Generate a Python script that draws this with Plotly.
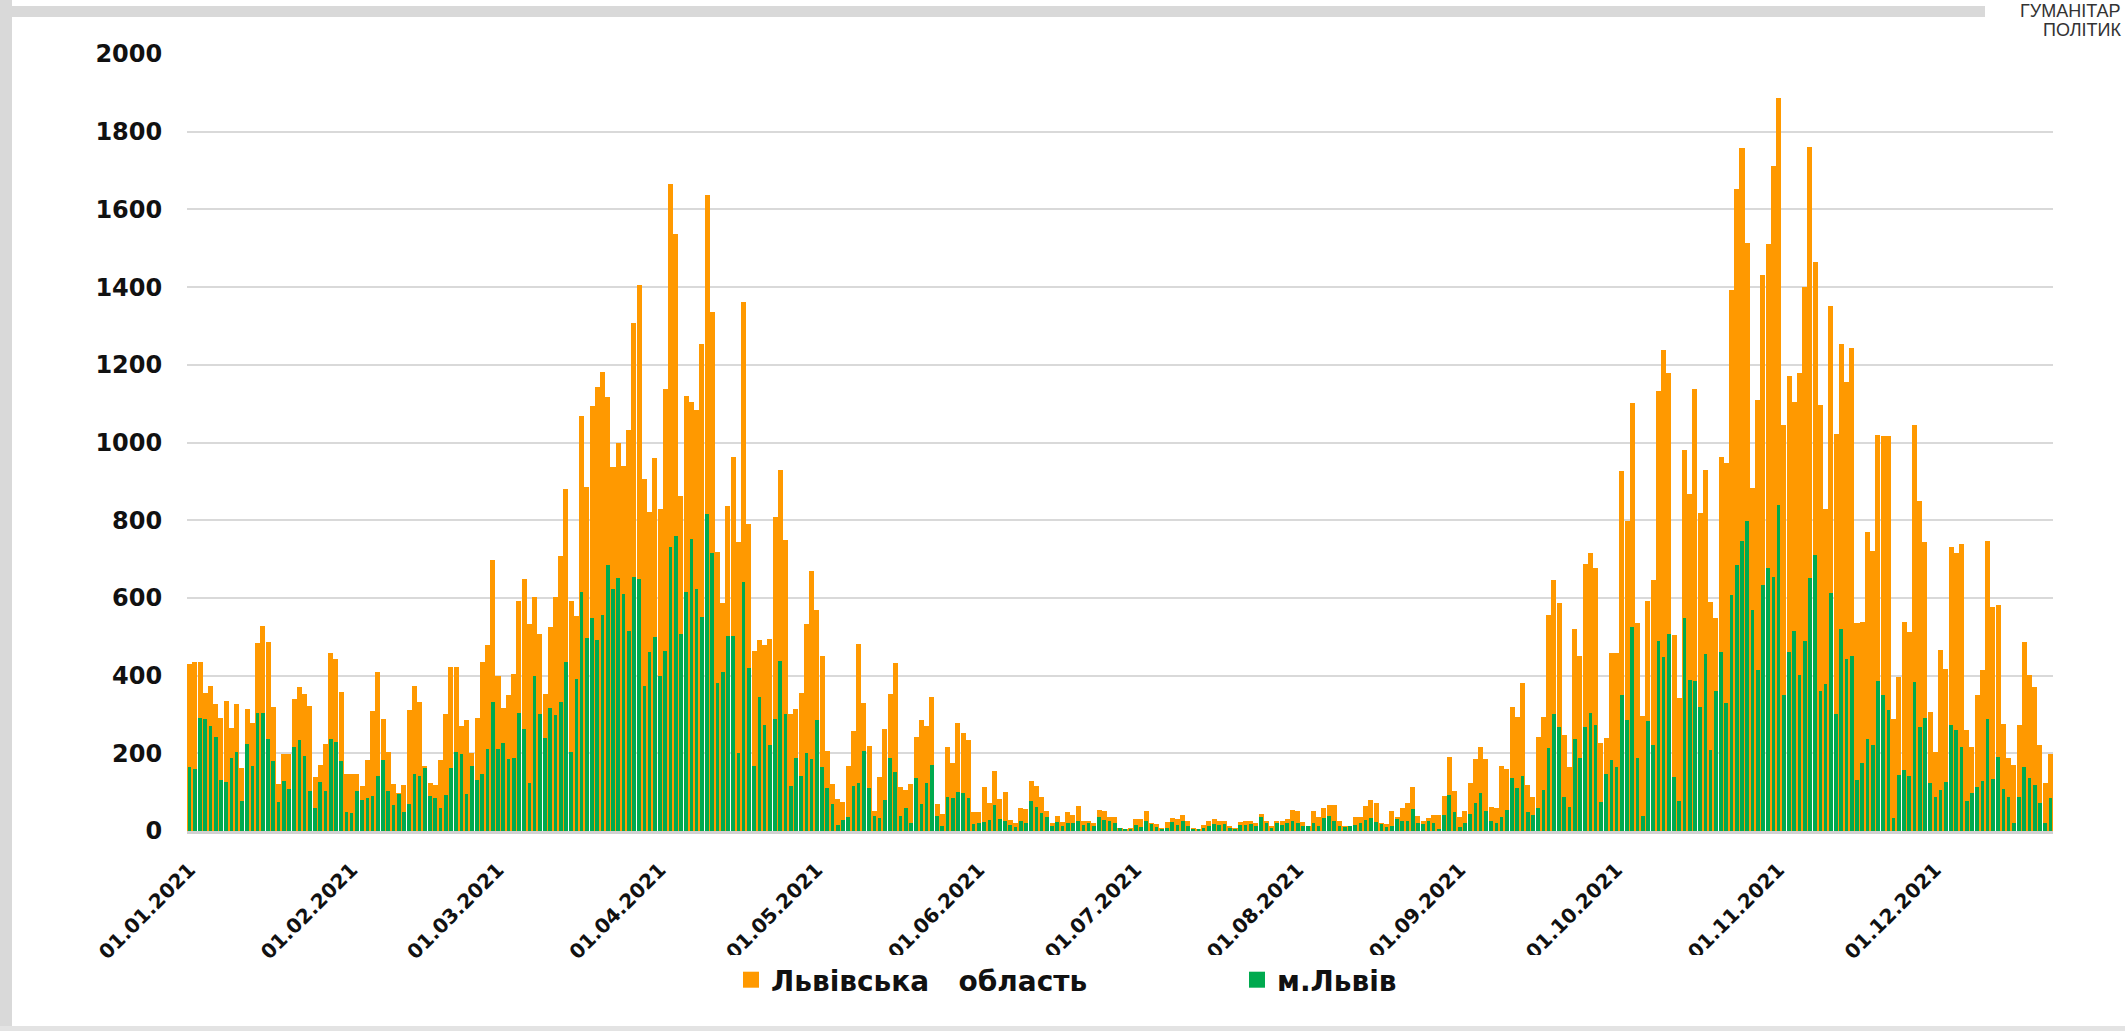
import pandas as pd
import plotly.graph_objects as go

# daily new cases (Lviv oblast / Lviv city)
oblast = [
    430, 435, 435, 355, 373, 327, 290, 334, 265, 328, 161, 314, 279, 484, 528, 487, 318, 122, 198, 198,
    340, 371, 353, 322, 140, 170, 223, 458, 443, 359, 146,
    147, 147, 115, 183, 308, 409, 288, 204, 121, 97, 118, 312, 374, 331, 167, 124, 118, 183, 301, 423,
    422, 270, 285, 200, 290, 434, 480,
    698, 400, 316, 351, 404, 591, 649, 532, 602, 508, 353, 524, 602, 707, 880, 591, 554, 1067, 886, 1095,
    1142, 1182, 1118, 938, 998, 940, 1033, 1307, 1405, 907, 822,
    959, 830, 1138, 1665, 1537, 862, 1120, 1103, 1083, 1254, 1637, 1335, 717, 588, 837, 962, 745, 1361, 791,
    463, 492, 478, 495, 808, 928, 748, 301, 313, 354, 532, 670, 570, 451, 205, 122, 83, 74, 168, 258,
    481, 330, 219, 52, 138, 262, 352, 433, 114, 106, 121, 241, 286, 270, 346, 70, 44, 215, 174, 279,
    253, 233, 50, 48, 112, 73, 155, 82, 100, 28, 21, 60, 57, 130,
    115, 87, 52, 21, 38, 22, 49, 40, 65, 27, 25, 21, 55, 51, 35, 35, 9, 3, 8, 32, 32, 52, 21, 18, 9, 22,
    33, 31, 42, 27, 9, 5, 16, 25, 32, 27, 25, 12, 8, 23, 27, 27, 21, 44, 27, 12, 27, 27, 31, 53, 52, 22,
    14, 51, 35, 58, 68, 66, 27, 12, 12, 36, 36,
    64, 80, 73, 20, 17, 52, 37, 60, 71, 112, 39, 27, 34, 41, 41, 90, 191, 103, 37, 52, 123, 185, 215, 185,
    63, 58, 167, 159, 318, 294, 380, 118, 88, 243, 294,
    555, 646, 586, 246, 166, 520, 450, 686, 716, 678, 226, 240, 458, 458, 927, 797, 1102, 536, 295, 591,
    646, 1132, 1238, 1178,
    505, 343, 981, 868, 1138, 819, 930, 589, 549, 962, 948, 1393, 1653, 1759, 1514, 884, 1109, 1432, 1511,
    1711, 1888, 1044, 1170,
    1104, 1178, 1401, 1760, 1465, 1096, 829, 1351, 1022, 1253, 1157, 1243, 536, 538, 770, 722, 1020, 1017,
    1017, 289, 397, 539, 512, 1046, 850, 744,
    307, 203, 467, 418, 730, 716, 740, 261, 216, 351, 414, 746, 577, 581, 276, 188, 171, 274, 487, 401,
    371, 222, 124, 199,
]
city = [
    164, 160, 292, 288, 271, 241, 131, 126, 187, 203, 78, 223, 167, 303, 303, 237, 180, 75, 130, 109,
    215, 234, 194, 103, 60, 127, 104, 238, 228, 180, 49,
    47, 103, 79, 84, 90, 142, 183, 103, 68, 95, 49, 69, 148, 141, 161, 90, 86, 58, 92, 163,
    203, 198, 96, 167, 131, 146, 211,
    333, 212, 227, 185, 189, 304, 262, 123, 398, 302, 240, 316, 298, 333, 436, 203, 391, 615, 496, 547,
    492, 556, 684, 624, 651, 609, 516, 653, 649, 373, 462,
    499, 400, 463, 732, 760, 507, 615, 751, 624, 550, 817, 715, 380, 408, 501, 501, 202, 641, 420,
    168, 345, 274, 221, 288, 437, 301, 117, 188, 142, 200, 186, 285, 165, 110, 69, 15, 29, 37, 115,
    123, 206, 110, 39, 34, 80, 187, 153, 39, 58, 21, 136, 69, 123, 170, 39, 13, 87, 86, 101,
    97, 84, 18, 21, 24, 28, 67, 30, 26, 15, 11, 27, 20, 76,
    62, 46, 35, 14, 23, 12, 21, 21, 27, 16, 21, 14, 36, 29, 25, 21, 8, 3, 3, 16, 10, 27, 18, 10, 3, 9,
    22, 16, 25, 14, 5, 3, 9, 14, 18, 16, 18, 8, 3, 16, 16, 19, 14, 36, 21, 9, 21, 16, 21, 27, 21, 12,
    14, 21, 12, 33, 39, 25, 12, 10, 14, 16, 21,
    28, 34, 24, 17, 11, 14, 31, 26, 26, 57, 20, 17, 26, 20, 3, 41, 93, 48, 11, 20, 45, 71, 97, 52,
    26, 20, 37, 54, 136, 110, 142, 50, 41, 60, 106,
    213, 300, 267, 88, 63, 238, 189, 267, 305, 273, 74, 148, 184, 166, 351, 287, 525, 189, 39, 284,
    222, 488, 447, 507,
    139, 77, 549, 389, 386, 319, 456, 209, 360, 460, 329, 607, 684, 746, 797, 570, 415, 633, 677,
    655, 838, 350, 461,
    515, 402, 489, 650, 710, 360, 379, 612, 302, 520, 442, 450, 131, 176, 237, 221, 387, 350,
    312, 34, 144, 158, 142, 384, 268, 291,
    123, 88, 105, 126, 272, 261, 216, 76, 98, 112, 130, 288, 135, 191, 107, 88, 21, 88, 165, 136,
    118, 72, 21, 85,
]
dates = pd.date_range("2021-01-01", periods=len(oblast), freq="D")
month_ticks = pd.date_range("2021-01-01", "2021-12-01", freq="MS")
y_ticks = list(range(0, 2001, 200))
names = ["Львівська   область", "м.Львів"]
colors = ["#FF9900", "#00AA4F"]

W, H = 2125, 1032
L, R, T, B = 187, 72, 54, 201
PW, PH = W - L - R, H - T - B


def px(x):
    return (x - L) / PW


def py(y):
    return (H - B - y) / PH


DAY = 86400000
FONT = "DejaVu Sans"

fig = go.Figure()
fig.add_trace(go.Bar(x=dates, y=oblast, name=names[0], showlegend=False,
                     marker=dict(color=colors[0], line=dict(width=0)), width=DAY * 0.96))
fig.add_trace(go.Bar(x=dates, y=city, name=names[1], showlegend=False,
                     marker=dict(color=colors[1], line=dict(width=0)), width=DAY * 0.7))
# legend entries with bigger square keys
for n, c in zip(names, colors):
    fig.add_trace(go.Scatter(x=[None], y=[None], mode="markers", name=n,
                             marker=dict(symbol="square", size=19, color=c)))

half = pd.Timedelta(hours=12)
fig.update_layout(
    width=W, height=H,
    margin=dict(l=L, r=R, t=T, b=B),
    barmode="overlay",
    bargap=0,
    paper_bgcolor="white",
    plot_bgcolor="white",
    font=dict(family=FONT, color="#111111"),
    showlegend=True,
    legend=dict(
        orientation="h", x=px(731), xanchor="left", y=py(980), yanchor="middle",
        font=dict(size=28, family=FONT, weight="bold"),
        entrywidth=461, itemwidth=30,
    ),
    xaxis=dict(
        type="date",
        range=[dates[0] - half, dates[-1] + half],
        tickvals=month_ticks,
        tickformat="%d.%m.%Y",
        tickangle=-45,
        tickfont=dict(size=20, family=FONT, weight="bold"),
        ticks="outside", ticklen=16, tickcolor="rgba(0,0,0,0)",
        showgrid=False, automargin=False,
        showline=True, linecolor="#D0D0D0", linewidth=3,
    ),
    yaxis=dict(
        range=[0, 2000],
        tickvals=y_ticks,
        tickfont=dict(size=24, family=FONT, weight="bold"),
        ticks="outside", ticklen=19, tickcolor="rgba(0,0,0,0)",
        showgrid=True, gridcolor="#D9D9D9", gridwidth=2,
        zeroline=False, automargin=False,
    ),
    shapes=[
        # outer frame
        dict(type="rect", xref="paper", yref="paper", x0=px(0), x1=px(1985), y0=py(6), y1=py(17),
             fillcolor="#D9D9D9", line=dict(width=0), layer="below"),
        dict(type="rect", xref="paper", yref="paper", x0=px(0), x1=px(12), y0=py(0), y1=py(1027),
             fillcolor="#D9D9D9", line=dict(width=0), layer="below"),
        dict(type="rect", xref="paper", yref="paper", x0=px(0), x1=px(W), y0=py(1026), y1=py(1031),
             fillcolor="#E3E3E3", line=dict(width=0), layer="below"),
    ],
    annotations=[
        dict(text="ГУМАНІТАР", xref="paper", yref="paper", x=px(2123), y=py(11),
             xanchor="right", yanchor="middle", showarrow=False,
             font=dict(size=18, family="Liberation Sans", color="#333333")),
        dict(text="ПОЛІТИК", xref="paper", yref="paper", x=px(2123), y=py(30),
             xanchor="right", yanchor="middle", showarrow=False,
             font=dict(size=18, family="Liberation Sans", color="#333333")),
    ],
)

fig.write_html("out.html", config={"displayModeBar": False},
               post_script="document.body.style.margin='0';")
